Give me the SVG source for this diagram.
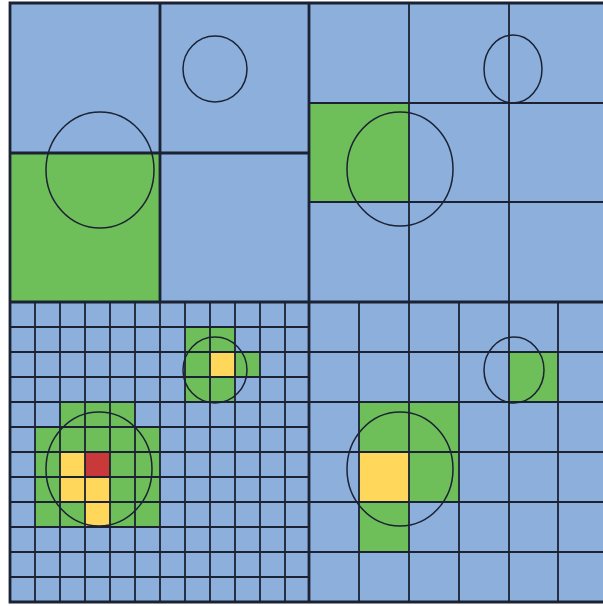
<svg xmlns="http://www.w3.org/2000/svg" width="603" height="606" viewBox="0 0 603 606">
<style>
.bg{fill:#ffffff}
.b{fill:#8CAFDC}
.g{fill:#6EBE5A}
.y{fill:#FFD75A}
.r{fill:#C9393A}
.thin{stroke:#1B2233;stroke-width:1.8;fill:none}
.thick{stroke:#1B2233;stroke-width:2.8;fill:none}
.c{stroke:#1B2233;stroke-width:1.5;fill:none}
</style>
<rect class="bg" x="0" y="0" width="603" height="606"/>
<g id="background">
<rect class="b" x="10" y="3" width="593" height="599"/>
</g>
<g id="fills">
<!-- top-left quadrant -->
<rect class="g" x="10" y="153" width="150" height="149"/>
<!-- top-right quadrant -->
<rect class="g" x="309" y="103" width="100" height="99"/>
<!-- bottom-left small cluster -->
<rect class="g" x="185" y="327" width="50" height="75"/>
<rect class="g" x="235" y="352" width="25" height="25"/>
<rect class="y" x="210" y="352" width="25" height="25"/>
<!-- bottom-left big cluster -->
<rect class="g" x="60" y="402" width="75" height="25"/>
<rect class="g" x="35" y="427" width="125" height="100"/>
<rect class="y" x="60" y="452" width="25" height="50"/>
<rect class="y" x="85" y="477" width="25" height="50"/>
<rect class="r" x="85" y="452" width="25" height="25"/>
<!-- bottom-right quadrant -->
<rect class="g" x="359" y="402" width="100" height="100"/>
<rect class="g" x="359" y="502" width="50" height="50"/>
<rect class="y" x="359" y="452" width="50" height="50"/>
<rect class="g" x="509" y="352" width="49" height="50"/>
</g>
<g id="connectors">
<!-- bottom-left fine grid -->
<path class="thin" d="M35 302V602M60 302V602M85 302V602M110 302V602M135 302V602M185 302V602M210 302V602M235 302V602M260 302V602M285 302V602"/>
<path class="thin" d="M10 327H309M10 352H309M10 377H309M10 402H309M10 427H309M10 452H309M10 477H309M10 502H309M10 527H309M10 552H309M10 577H309"/>
<path class="thin" d="M160 302V602"/>
<!-- bottom-right grid -->
<path class="thin" d="M359 302V602M409 302V602M459 302V602M509 302V602M558 302V602"/>
<path class="thin" d="M309 352H603M309 402H603M309 452H603M309 502H603M309 552H603"/>
<!-- top-right grid -->
<path class="thin" d="M409 3V302M509 3V302M309 103H603M309 202H603"/>
<!-- top-left quadrant lines -->
<path class="thick" d="M160 3V302M10 153H309"/>
<!-- quadrant dividers -->
<path class="thick" d="M309 3V602M10 302H603"/>
<!-- outer border -->
<path class="thick" d="M603 3H10V602H603"/>
</g>
<g id="circles">
<ellipse class="c" cx="100" cy="170" rx="54" ry="58"/>
<ellipse class="c" cx="215" cy="69" rx="32" ry="33"/>
<ellipse class="c" cx="400" cy="169" rx="53" ry="57"/>
<ellipse class="c" cx="513" cy="69" rx="29" ry="34"/>
<ellipse class="c" cx="99" cy="469" rx="53" ry="57"/>
<ellipse class="c" cx="215" cy="370" rx="32" ry="33"/>
<ellipse class="c" cx="400" cy="469" rx="53" ry="57"/>
<ellipse class="c" cx="514" cy="370" rx="30" ry="33"/>
</g>
</svg>
